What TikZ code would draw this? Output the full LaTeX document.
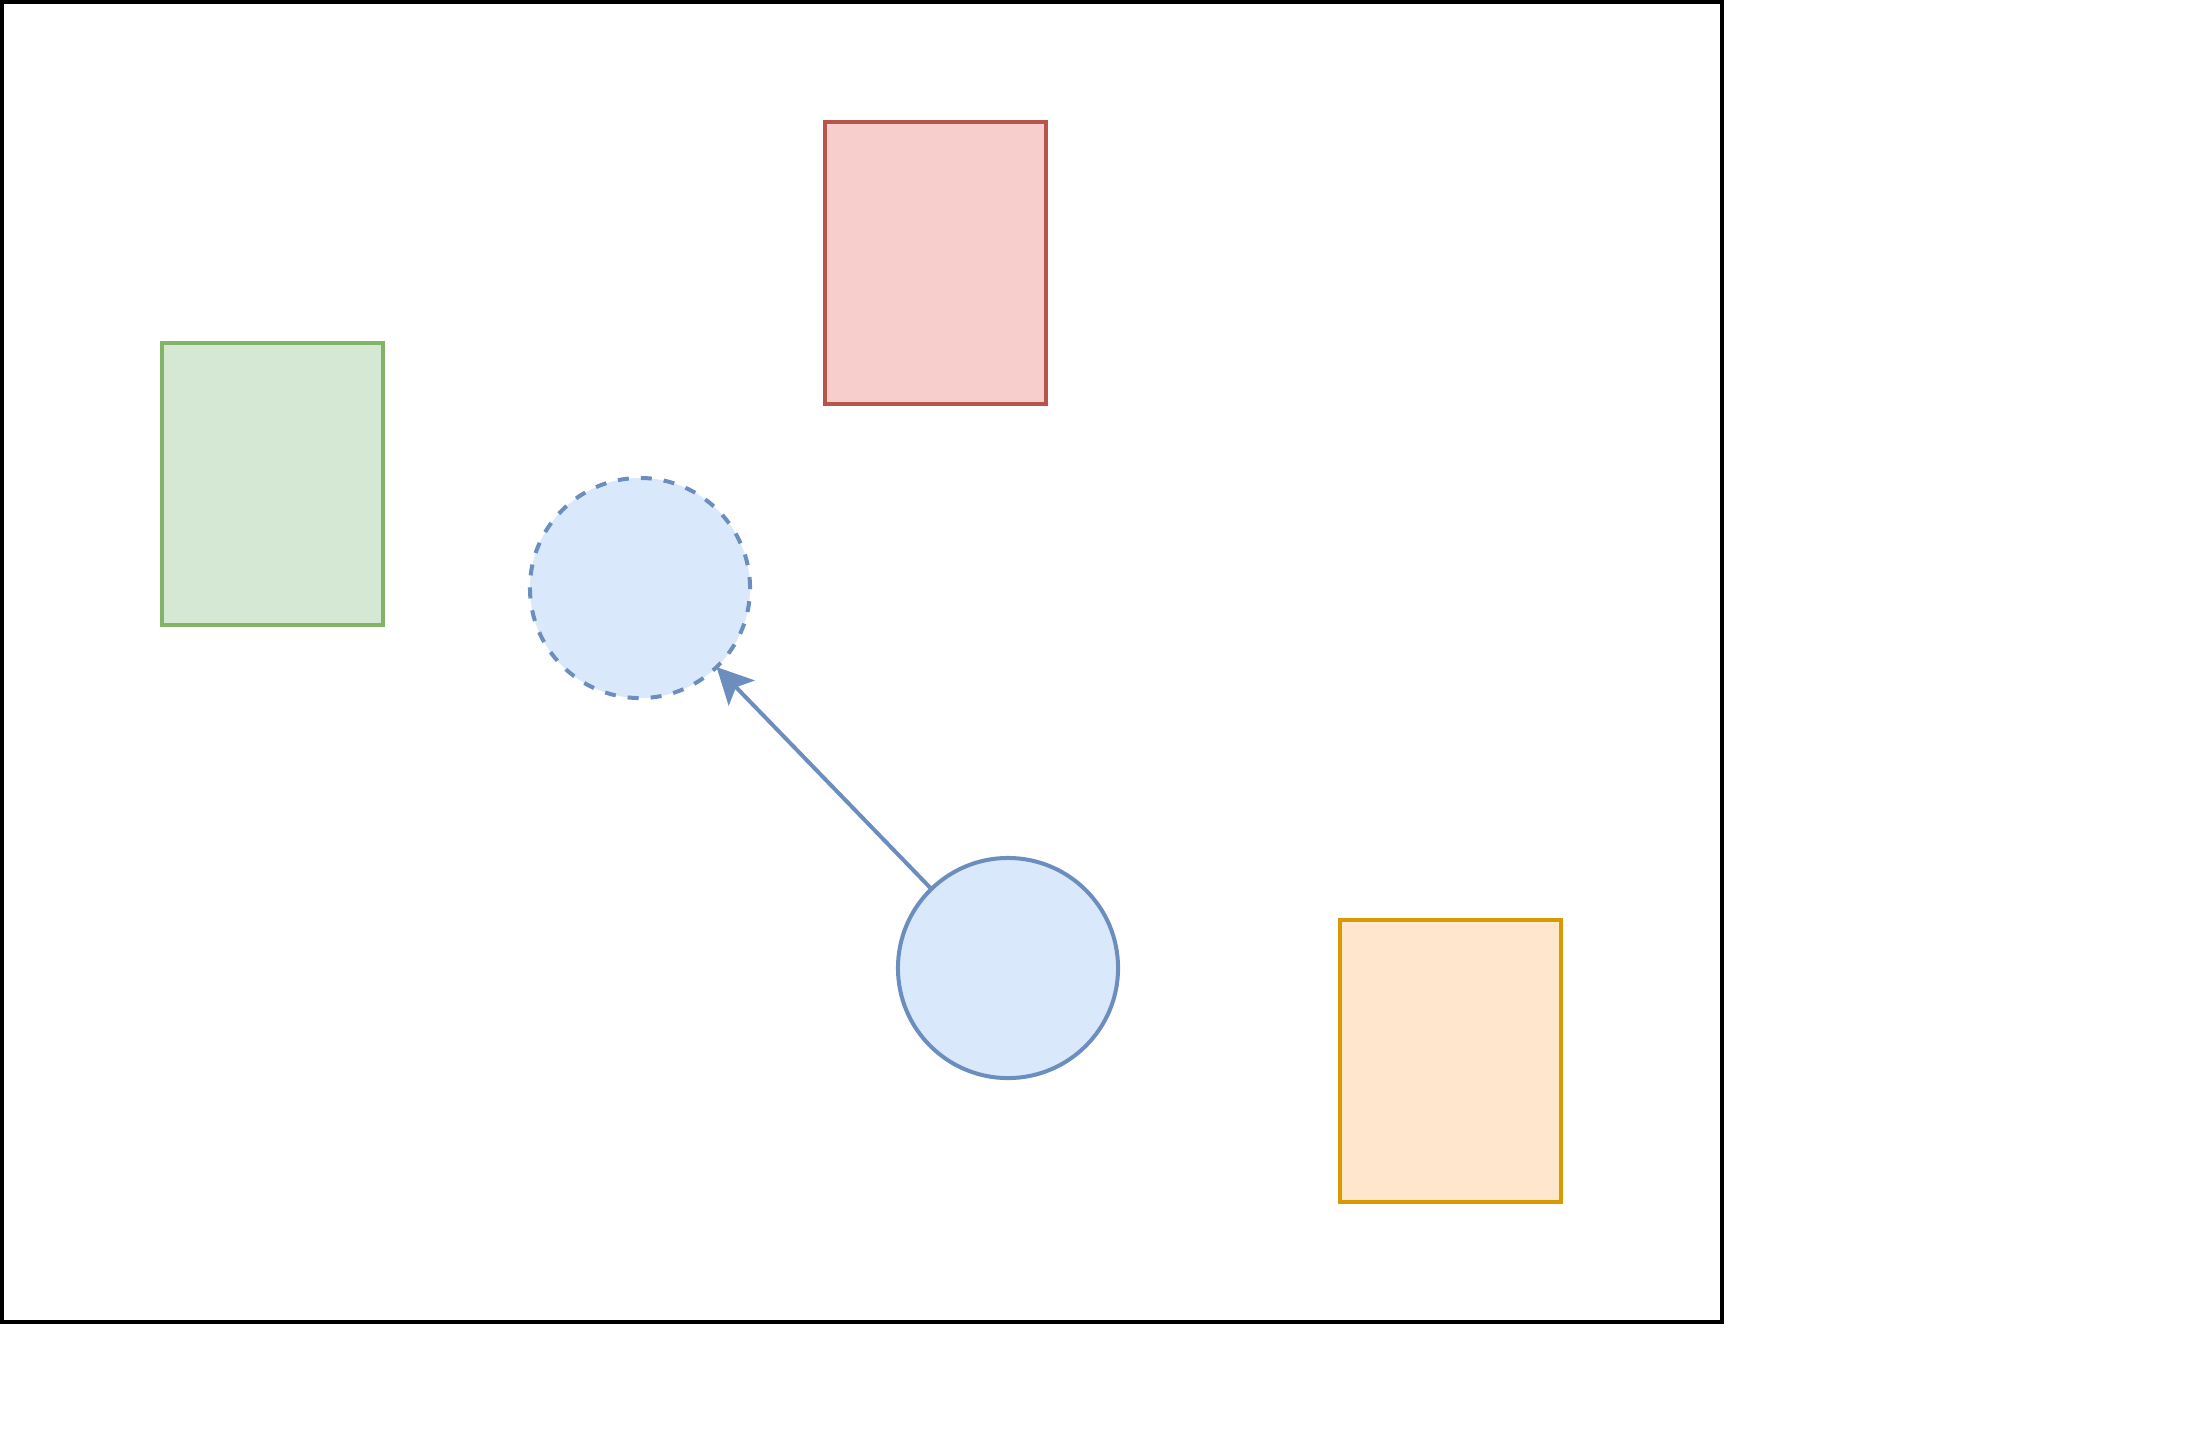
\documentclass[tikz,border=0pt]{standalone}
\usetikzlibrary{arrows.meta}
\definecolor{gfill}{HTML}{D5E8D4}\definecolor{gline}{HTML}{82B366}
\definecolor{rfill}{HTML}{F8CECC}\definecolor{rline}{HTML}{B85450}
\definecolor{ofill}{HTML}{FFE6CC}\definecolor{oline}{HTML}{D79B00}
\definecolor{bfill}{HTML}{DAE8FC}\definecolor{bline}{HTML}{6C8EBF}
\tikzset{
  box/.style={line width=0.035cm},
  blob/.style={circle, draw=bline, fill=bfill, line width=0.04cm, minimum size=2.2cm, inner sep=0pt, outer sep=0pt},
  link/.style={draw=bline, line width=0.04cm, -{Stealth[length=0.36cm, width=0.36cm, inset=0.08cm]}}
}
\begin{document}
\begin{tikzpicture}[x=0.01cm,y=-0.01cm]
\useasboundingbox (0,0) rectangle (2204,1444);
\draw[line width=0.04cm, black] (2,2) rectangle (1722,1322);
\draw[box, draw=rline, fill=rfill] (825,122) rectangle (1046,404);
\draw[box, draw=gline, fill=gfill] (162,343) rectangle (383,625);
\draw[box, draw=oline, fill=ofill] (1340,920) rectangle (1561,1202);
\node[blob, dash pattern=on 0.11cm off 0.12cm] (ghost) at (640,588) {};
\node[blob] (src) at (1008,968) {};
\draw[link] (src) -- (ghost);
\end{tikzpicture}
\end{document}
